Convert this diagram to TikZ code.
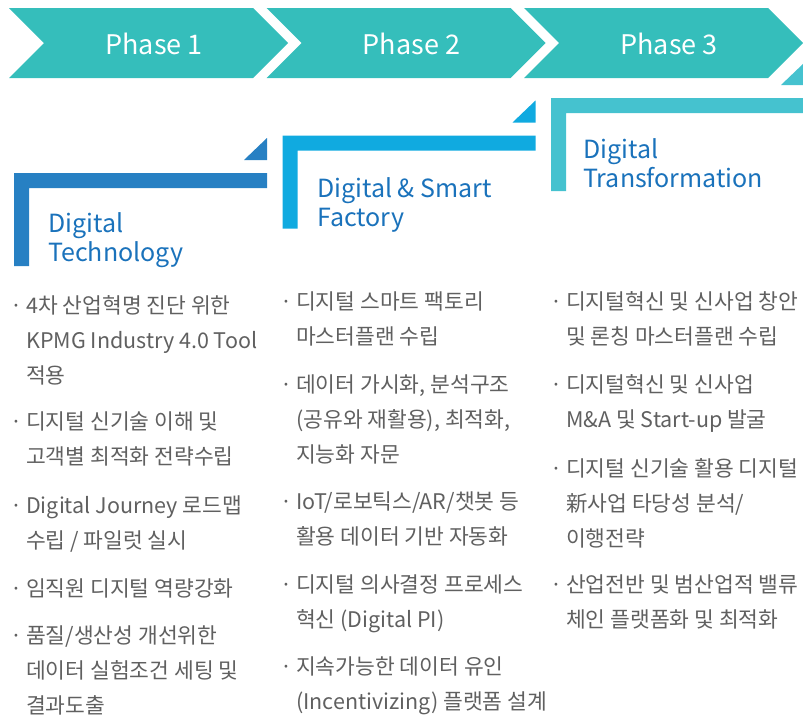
\documentclass[tikz,border=0pt]{standalone}
\usepackage{fontspec}
\setmainfont{Noto Sans CJK KR}
\usepackage{xcolor}
\usetikzlibrary{positioning}

\definecolor{phaseteal}{RGB}{53,190,187}
\definecolor{stepA}{RGB}{39,128,195}
\definecolor{stepB}{RGB}{16,170,224}
\definecolor{stepC}{RGB}{69,194,207}
\definecolor{titleblue}{RGB}{26,114,187}
\definecolor{bodygray}{RGB}{96,96,96}

\newcommand{\bul}{\makebox[13pt][l]{\hspace*{-3pt}·}}
\newcommand{\ind}{\hspace*{13pt}}

\begin{document}
\begin{tikzpicture}[x=1pt,y=-1pt,
  phaselabel/.style={text=white,font=\fontsize{27}{30}\selectfont,inner sep=0pt},
  steptitle/.style={text=titleblue,font=\fontsize{25}{29}\selectfont,align=left,anchor=base west,inner sep=0pt},
  itemtext/.style={text=bodygray,font=\fontsize{21.5}{35}\selectfont,align=left,anchor=base west,inner sep=0pt}]
\useasboundingbox (0,0) rectangle (803,718);

% Draw phase chevrons
\foreach \i in {1,2,3} {
    \coordinate (P\i) at ({9+257.5*(\i-1)},8);
    \fill[phaseteal] (P\i) -- ++(244,0) -- ++(35,35) -- ++(-35,35) -- ++(-244,0) -- ++(35,-35) -- cycle;
    \node[phaselabel] (phase\i) at ({154+257.5*(\i-1)},44) {Phase \i};
}

% Draw steps
\foreach \i/\col in {0/stepA,1/stepB,2/stepC} {
    \begin{scope}[shift={({268.5*\i},{-37.5*\i})}]
    \fill[\col] (14,173) -- (267,173) -- (267,188) -- (29,188) -- (29,266) -- (14,266) -- cycle;
    \fill[\col] (244,160) -- (267,160) -- (267,138) -- cycle;
    \end{scope}
}

% Step titles (base = last line)
\node[steptitle] (ttlA) at (48,261) {Digital\\Technology};
\node[steptitle] (ttlB) at (317,226) {Digital \& Smart\\Factory};
\node[steptitle] (ttlC) at (583,187) {Digital\\Transformation};

% Column 1
\node[itemtext] (a1) at (13,383) {\bul 4차 산업혁명 진단 위한\\\ind KPMG Industry 4.0 Tool\\\ind 적용};
\node[itemtext] (a2) at (13,464) {\bul 디지털 신기술 이해 및\\\ind 고객별 최적화 전략수립};
\node[itemtext] (a3) at (13,548) {\bul Digital Journey 로드맵\\\ind 수립 / 파일럿 실시};
\node[itemtext] (a4) at (13,596) {\bul 임직원 디지털 역량강화};
\node[itemtext] (a5) at (13,713) {\bul 품질/생산성 개선위한\\\ind 데이터 실험조건 세팅 및\\\ind 결과도출};

% Column 2
\node[itemtext] (b1) at (283,344) {\bul 디지털 스마트 팩토리\\\ind 마스터플랜 수립};
\node[itemtext] (b2) at (283,462) {\bul 데이터 가시화, 분석구조\\\ind (공유와 재활용), 최적화,\\\ind 지능화 자문};
\node[itemtext] (b3) at (283,544) {\bul IoT/로보틱스/AR/챗봇 등\\\ind 활용 데이터 기반 자동화};
\node[itemtext] (b4) at (283,627) {\bul 디지털 의사결정 프로세스\\\ind 혁신 (Digital PI)};
\node[itemtext] (b5) at (283,709) {\bul 지속가능한 데이터 유인\\\ind (Incentivizing) 플랫폼 설계};

% Column 3
\node[itemtext] (c1) at (553,344) {\bul 디지털혁신 및 신사업 창안\\\ind 및 론칭 마스터플랜 수립};
\node[itemtext] (c2) at (553,427) {\bul 디지털혁신 및 신사업\\\ind M\&A 및 Start-up 발굴};
\node[itemtext] (c3) at (553,546) {\bul 디지털 신기술 활용 디지털\\\ind 新사업 타당성 분석/\\\ind 이행전략};
\node[itemtext] (c4) at (553,627) {\bul 산업전반 및 범산업적 밸류\\\ind 체인 플랫폼화 및 최적화};
\end{tikzpicture}
\end{document}
